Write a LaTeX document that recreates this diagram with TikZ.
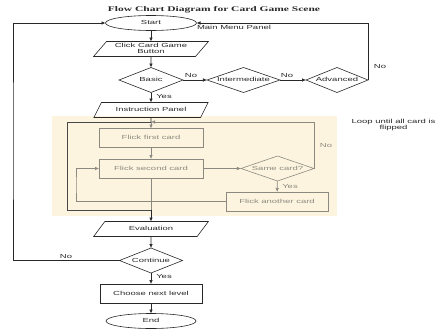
\documentclass[tikz,border=0pt]{standalone}
\usepackage{fontspec}
\setmainfont{Liberation Sans}
\newfontfamily\titlefont{Liberation Serif}
\usepackage{graphicx}
\usetikzlibrary{shapes.geometric,arrows.meta}
\definecolor{bgbeige}{RGB}{252,244,223}
\definecolor{ink}{RGB}{40,40,40}
\definecolor{faded}{RGB}{140,138,128}
\newcommand\sq[1]{\scalebox{1}[0.62]{\begin{tabular}{@{}c@{}}#1\end{tabular}}}
\begin{document}
\begin{tikzpicture}[x=1pt,y=-1pt,
 every node/.style={inner sep=0pt, outer sep=0pt, font=\fontsize{9.5}{6}\selectfont, text=ink},
 base/.style={draw=ink, line width=0.6pt},
 oval/.style={base, ellipse, minimum width=91pt, minimum height=15pt},
 para/.style={base, trapezium, trapezium left angle=45, trapezium right angle=135, trapezium stretches, minimum width=115pt, minimum height=15pt},
 decide/.style={base, diamond, aspect=2.9, minimum height=25pt},
 box/.style={base, rectangle},
 fadedbox/.style={draw=faded, line width=0.6pt, rectangle, text=faded},
 fadeddecide/.style={draw=faded, line width=0.6pt, diamond, aspect=2.9, text=faded},
 arr/.style={draw=ink, line width=0.6pt, -{Latex[length=4pt,width=3.5pt]}},
 farr/.style={draw=faded, line width=0.6pt, -{Latex[length=4pt,width=3.5pt]}},
 fline/.style={draw=faded, line width=0.6pt},
 frame/.style={draw=ink!85, line width=0.9pt},
]
\useasboundingbox (0,0) rectangle (442,330);
\node[fill=bgbeige, minimum width=285pt, minimum height=100pt] (panel) at (194.5,166) {};
\node (title) at (214,10) {\titlefont\bfseries\fontsize{11.5}{6}\selectfont\sq{Flow Chart Diagram for Card Game Scene}};

\node[oval] (start) at (151,23) {\sq{Start}};
\node (mmp) at (234,28) {\sq{Main Menu Panel}};
\node[para] (click) at (151,49) {\sq{Click Card Game\\Button}};
\node[decide, minimum width=64pt] (basic) at (151,80) {\sq{Basic}};
\node[decide, minimum width=73pt] (inter) at (243.5,80) {\sq{Intermediate}};
\node[decide, minimum width=62pt] (adv) at (337,80) {\sq{Advanced}};
\node[para] (instr) at (151,110) {\sq{Instruction Panel}};
\node[fadedbox, minimum width=104pt, minimum height=19pt] (first) at (151,138) {\sq{Flick first card}};
\node[fadedbox, minimum width=104pt, minimum height=19pt] (second) at (151,168.5) {\sq{Flick second card}};
\node[fadeddecide, minimum width=73pt, minimum height=25pt] (same) at (277.5,168.5) {\sq{Same card?}};
\node[fadedbox, minimum width=102pt, minimum height=19pt] (another) at (277,201.5) {\sq{Flick another card}};
\node[para] (eval) at (151,229) {\sq{Evaluation}};
\node[decide, minimum width=63pt] (cont) at (151,260.5) {\sq{Continue}};
\node[box, minimum width=102pt, minimum height=19pt] (choose) at (151,293.5) {\sq{Choose next level}};
\node[oval, minimum width=90pt] (end) at (151,321) {\sq{End}};

\node (no1) at (191,76) {\sq{No}};
\node (no2) at (287,76) {\sq{No}};
\node (yes1) at (164,97) {\sq{Yes}};
\node (noR) at (380,67) {\sq{No}};
\node[text=faded] (nosame) at (326,146) {\sq{No}};
\node[text=faded] (yessame) at (290,187) {\sq{Yes}};
\node (nocont) at (66,257) {\sq{No}};
\node (yescont) at (164,277) {\sq{Yes}};
\node (loop) at (393.5,125) {\sq{Loop until all card is\\flipped}};

\coordinate (jt) at (151,122);
\coordinate (jb) at (151,210);
\coordinate (ftl) at (67,122);
\coordinate (fbl) at (67,210);
\coordinate (lx) at (76,185);
\coordinate (lx2) at (13,140);

\draw[arr] (start) -- (click);
\draw[arr] (click) -- (basic);
\draw[arr] (basic) -- (inter);
\draw[arr] (inter) -- (adv);
\draw[arr] (adv.east) |- (start.east);
\draw[arr] (basic) -- (instr);
\draw[base] (instr.south) -- (jt);
\draw[frame] (jt) -- (ftl) -- (fbl) -- (jb);
\draw[farr] (jt) -- (first);
\draw[farr] (first) -- (second);
\draw[farr] (second) -- (same);
\draw[farr] (same.east) |- (jt);
\draw[farr] (same) -- (another);
\draw[farr] (another.west) -| (lx) |- (second.west);
\draw[fline] (second) -- (jb);
\draw[arr] (jb) -- (eval);
\draw[arr] (eval) -- (cont);
\draw[arr] (cont.west) -| (lx2) |- (start.west);
\draw[arr] (cont) -- (choose);
\draw[arr] (choose) -- (end);
\end{tikzpicture}
\end{document}
